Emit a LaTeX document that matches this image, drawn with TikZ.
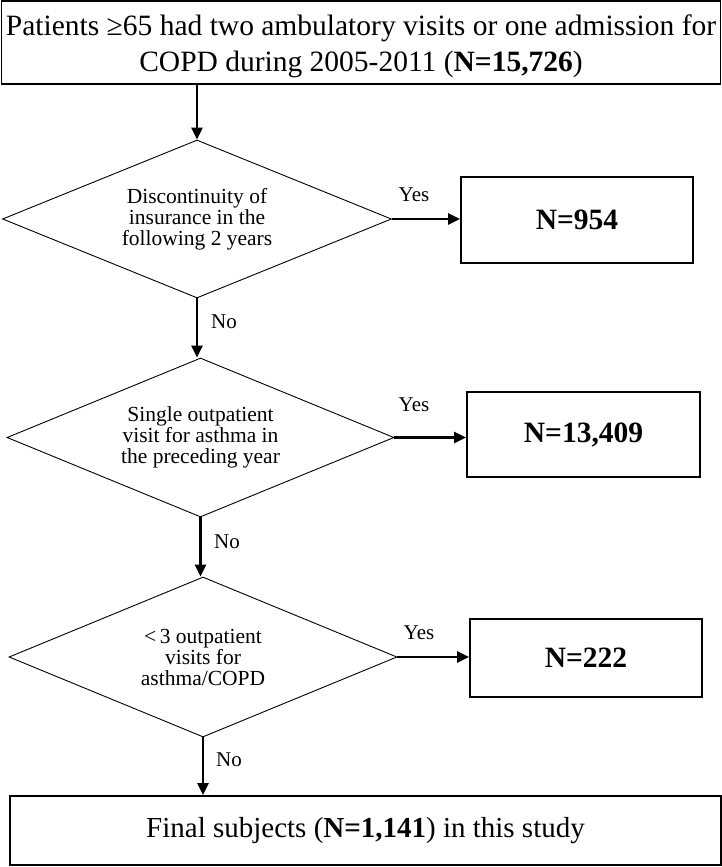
\documentclass[tikz,border=0pt]{standalone}
\usepackage{fontspec}
\setmainfont{Liberation Serif}
\usetikzlibrary{shapes.geometric,arrows.meta}
\tikzset{
  x=1pt,y=-1pt,
  bigbox/.style={draw,line width=1.7pt,inner sep=0pt},
  bigtext/.style={inner sep=0pt,align=center,font=\fontsize{29.5}{36}\selectfont},
  nbox/.style={draw,line width=1.7pt,inner sep=0pt,
    font=\fontsize{29.5}{33}\selectfont\bfseries},
  decision/.style={draw,diamond,line width=0.9pt,inner sep=0pt,align=center,
    font=\fontsize{21.5}{21}\selectfont},
  lbl/.style={font=\fontsize{21}{24}\selectfont,inner sep=0pt},
  flow/.style={line width=2.4pt,-{Triangle[length=12pt,width=11pt]}}
}
\begin{document}
\begin{tikzpicture}
\useasboundingbox (0,0) rectangle (722,867);
\node[bigbox,minimum width=719pt,minimum height=83pt] (top) at (361,42.5) {};
\node[bigtext] (toptext) at (361,46)
  {Patients ≥65 had two ambulatory visits or one admission for\\COPD during 2005-2011 (\textbf{N=15,726})};
\node[decision,shape aspect=2.46,minimum width=389pt,minimum height=158pt] (d1) at (197,219)
  {Discontinuity of\\insurance in the\\following 2 years};
\node[decision,shape aspect=2.43,minimum width=387pt,minimum height=159pt] (d2) at (200.5,437.5)
  {Single outpatient\\visit for asthma in\\the preceding year};
\node[decision,shape aspect=2.43,minimum width=388pt,minimum height=160pt] (d3) at (203,657)
  {<\,3 outpatient\\visits for\\asthma/COPD};
\node[nbox,minimum width=232pt,minimum height=86pt] (b1) at (577,220) {N=954};
\node[nbox,minimum width=233pt,minimum height=85pt] (b2) at (583.5,434.5) {N=13,409};
\node[nbox,minimum width=232pt,minimum height=78pt] (b3) at (586,658) {N=222};
\node[bigbox,minimum width=711pt,minimum height=69pt,
  font=\fontsize{29}{33}\selectfont] (fin) at (365.5,830.5)
  {Final subjects (\textbf{N=1,141}) in this study};
\draw[flow] (d1.north |- top.south) -- (d1.north);
\draw[flow] (d1.south) -- (d1.south |- d2.north);
\draw[flow] (d2.south) -- (d2.south |- d3.north);
\draw[flow] (d3.south) -- (d3.south |- fin.north);
\draw[flow] (d1.east) -- (d1.east -| b1.west);
\draw[flow] (d2.east) -- (d2.east -| b2.west);
\draw[flow] (d3.east) -- (d3.east -| b3.west);
\node[lbl] (y1) at (414,195) {Yes};
\node[lbl] (y2) at (414,405) {Yes};
\node[lbl] (y3) at (419,633) {Yes};
\node[lbl] (n1) at (224,322) {No};
\node[lbl] (n2) at (227,542) {No};
\node[lbl] (n3) at (229,760) {No};
\end{tikzpicture}
\end{document}
